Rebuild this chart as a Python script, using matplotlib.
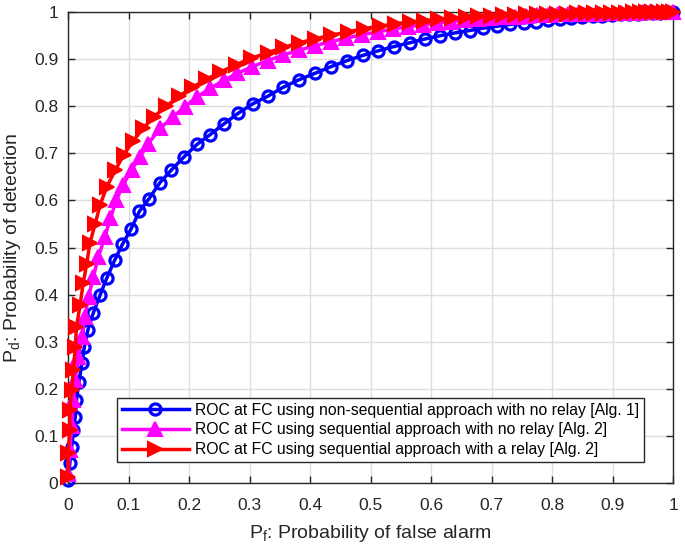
import matplotlib
matplotlib.use("Agg")
import matplotlib.pyplot as plt
import numpy as np

plt.rcParams['font.family'] = ['Liberation Sans', 'DejaVu Sans']
plt.rcParams['mathtext.fontset'] = 'custom'
plt.rcParams['mathtext.rm'] = 'Liberation Sans'
plt.rcParams['mathtext.it'] = 'Liberation Sans:italic'

# ROC at FC, non-sequential, no relay [Alg. 1]
blue_pf = [0, 0.003, 0.006, 0.009, 0.012, 0.014, 0.018, 0.023, 0.027, 0.033, 0.042, 0.053,
           0.064, 0.077, 0.090, 0.104, 0.118, 0.134, 0.152, 0.171, 0.192, 0.214, 0.235, 0.257,
           0.281, 0.305, 0.331, 0.355, 0.381, 0.408, 0.434, 0.461, 0.487, 0.513, 0.539, 0.565,
           0.590, 0.615, 0.640, 0.664, 0.686, 0.709, 0.731, 0.753, 0.774, 0.794, 0.813, 0.832,
           0.850, 0.867, 0.883, 0.899, 0.914, 0.928, 0.942, 0.955, 0.967, 0.979, 0.990, 1.0]
blue_pd = [0.006, 0.042, 0.077, 0.113, 0.141, 0.176, 0.215, 0.254, 0.289, 0.326, 0.362, 0.399,
           0.435, 0.473, 0.507, 0.539, 0.577, 0.604, 0.638, 0.665, 0.693, 0.720, 0.740, 0.762,
           0.785, 0.805, 0.822, 0.840, 0.856, 0.870, 0.884, 0.897, 0.908, 0.918, 0.927, 0.935,
           0.943, 0.950, 0.956, 0.961, 0.966, 0.970, 0.974, 0.977, 0.980, 0.983, 0.985, 0.987,
           0.989, 0.991, 0.992, 0.993, 0.995, 0.996, 0.997, 0.998, 0.998, 0.999, 1.0, 1.0]

# ROC at FC, sequential, no relay [Alg. 2]
mag_pf = [0.0, 0.003, 0.006, 0.009, 0.012, 0.017, 0.023, 0.028, 0.034, 0.042, 0.050, 0.061,
          0.070, 0.080, 0.091, 0.105, 0.119, 0.133, 0.152, 0.174, 0.193, 0.213, 0.235, 0.257,
          0.280, 0.304, 0.330, 0.356, 0.382, 0.408, 0.434, 0.460, 0.486, 0.512, 0.537, 0.562,
          0.586, 0.610, 0.633, 0.655, 0.677, 0.698, 0.718, 0.738, 0.757, 0.775, 0.793, 0.810,
          0.827, 0.843, 0.858, 0.873, 0.887, 0.901, 0.914, 0.927, 0.939, 0.951, 0.962, 0.973,
          0.983, 0.992, 1.0]
mag_pd = [0.02, 0.07, 0.12, 0.176, 0.219, 0.268, 0.311, 0.353, 0.396, 0.438, 0.480, 0.523,
          0.562, 0.601, 0.633, 0.665, 0.693, 0.721, 0.753, 0.778, 0.799, 0.820, 0.838, 0.855,
          0.870, 0.884, 0.897, 0.909, 0.919, 0.929, 0.937, 0.945, 0.952, 0.958, 0.964, 0.969,
          0.973, 0.977, 0.980, 0.983, 0.985, 0.987, 0.989, 0.990, 0.992, 0.993, 0.994, 0.995,
          0.996, 0.996, 0.997, 0.997, 0.998, 0.998, 0.999, 0.999, 0.999, 1.0, 1.0, 1.0,
          1.0, 1.0, 1.0]

# ROC at FC, sequential, with a relay [Alg. 2]
red_pf = [0.0, 0.0, 0.003, 0.003, 0.006, 0.009, 0.012, 0.014, 0.020, 0.025, 0.031, 0.036,
          0.045, 0.053, 0.064, 0.078, 0.092, 0.108, 0.124, 0.142, 0.162, 0.183, 0.205, 0.228,
          0.252, 0.277, 0.303, 0.330, 0.356, 0.382, 0.408, 0.435, 0.462, 0.489, 0.515, 0.540,
          0.565, 0.589, 0.612, 0.635, 0.657, 0.678, 0.699, 0.719, 0.738, 0.757, 0.775, 0.792,
          0.809, 0.825, 0.841, 0.856, 0.870, 0.884, 0.897, 0.910, 0.922, 0.934, 0.945, 0.956,
          0.966, 0.976, 0.985, 0.993, 1.0]
red_pd = [0.013, 0.063, 0.113, 0.155, 0.197, 0.240, 0.289, 0.332, 0.378, 0.424, 0.466, 0.509,
          0.551, 0.590, 0.629, 0.664, 0.697, 0.727, 0.753, 0.778, 0.800, 0.821, 0.840, 0.857,
          0.873, 0.888, 0.902, 0.914, 0.925, 0.935, 0.943, 0.951, 0.958, 0.965, 0.970, 0.975,
          0.979, 0.982, 0.985, 0.987, 0.989, 0.991, 0.992, 0.993, 0.994, 0.995, 0.996, 0.996,
          0.997, 0.997, 0.998, 0.998, 0.998, 0.999, 0.999, 0.999, 0.999, 1.0, 1.0, 1.0,
          1.0, 1.0, 1.0, 1.0, 1.0]

labels = ['ROC at FC using non-sequential approach with no relay [Alg. 1]',
          'ROC at FC using sequential approach with no relay [Alg. 2]',
          'ROC at FC using sequential approach with a relay [Alg. 2]']
ticks = [0, 0.1, 0.2, 0.3, 0.4, 0.5, 0.6, 0.7, 0.8, 0.9, 1]
tick_labels = ['0', '0.1', '0.2', '0.3', '0.4', '0.5', '0.6', '0.7', '0.8', '0.9', '1']

fig = plt.figure(figsize=(6.85, 5.52), dpi=100)
ax = fig.add_axes([0.0993, 0.125, 0.8832, 0.853])

ax.plot(blue_pf, blue_pd, color='#0000ff', lw=2.5, marker='o', ms=8,
        mfc='none', mew=2.3, label=labels[0], clip_on=False, zorder=3)
ax.plot(mag_pf, mag_pd, color='#ff00ff', lw=2.5, marker='^', ms=10.5,
        mfc='#ff00ff', mew=1.5, label=labels[1], clip_on=False, zorder=4)
ax.plot(red_pf, red_pd, color='#ff0000', lw=2.5, marker='>', ms=10.5,
        mfc='#ff0000', mew=1.5, label=labels[2], clip_on=False, zorder=5)

ax.set_xlim(0, 1)
ax.set_ylim(0, 1)
ax.set_xticks(ticks)
ax.set_xticklabels(tick_labels)
ax.set_yticks(ticks)
ax.set_yticklabels(tick_labels)
ax.tick_params(direction='in', top=True, right=True, length=5, width=1,
               labelsize=12.5, colors='#262626')
ax.tick_params(axis='x', pad=11)
ax.tick_params(axis='y', pad=7)
ax.grid(True, color='#dedede', lw=1)
ax.set_axisbelow(True)
for s in ax.spines.values():
    s.set_color('#262626')
    s.set_linewidth(1)

ax.set_xlabel(r'P$_\mathrm{f}$: Probability of false alarm', fontsize=14, labelpad=7, color='#262626')
ax.set_ylabel(r'P$_\mathrm{d}$: Probability of detection', fontsize=14, labelpad=8, color='#262626')

leg = ax.legend(loc='lower left', bbox_to_anchor=(0.081, 0.045), fontsize=11.3,
                fancybox=False, framealpha=1, edgecolor='#262626', borderpad=0.3,
                handlelength=4.3, labelspacing=0.3, handletextpad=0.4, borderaxespad=0)
leg.get_frame().set_linewidth(1)
leg.set_zorder(10)

fig.savefig('out.png', dpi=100)
